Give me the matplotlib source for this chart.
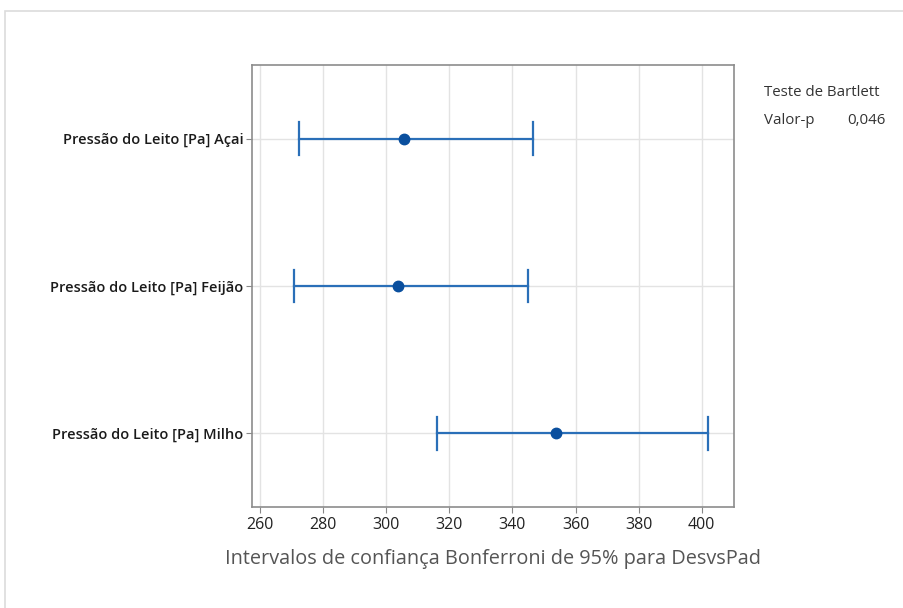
import matplotlib
matplotlib.use("Agg")
import matplotlib.pyplot as plt
from matplotlib.patches import Rectangle

plt.rcParams['font.family'] = ['Open Sans', 'DejaVu Sans']

categories = ["Pressão do Leito [Pa] Açai",
              "Pressão do Leito [Pa] Feijão",
              "Pressão do Leito [Pa] Milho"]
stdev = [305.5, 303.9, 353.8]
lower = [272.5, 270.9, 316.1]
upper = [346.5, 344.9, 402.0]
xticks = [260, 280, 300, 320, 340, 360, 380, 400]
p_value = "0,046"

fig = plt.figure(figsize=(9.04, 6.08), dpi=100)
W, H = 904, 608

# light outer frame
fig.patches.append(Rectangle((5 / W, -0.1), 1.2, (H - 11) / H + 0.1,
                             transform=fig.transFigure, fill=False,
                             edgecolor="#dcdcdc", linewidth=1.2))

ax = fig.add_axes([252 / W, 1 - 507 / H, (734 - 252) / W, (507 - 65) / H])
ypos = list(range(1, len(categories) + 1))

line_c = "#2a6fb8"
dot_c = "#0a4f9e"
for y, c, lo, hi in zip(ypos, stdev, lower, upper):
    ax.plot([lo, hi], [y, y], color=line_c, lw=1.6, zorder=3)
    ax.plot([lo, lo], [y - 0.11, y + 0.11], color=line_c, lw=1.6, zorder=3)
    ax.plot([hi, hi], [y - 0.11, y + 0.11], color=line_c, lw=1.6, zorder=3)
    ax.plot([c], [y], 'o', color=dot_c, markersize=7.5, zorder=4)

ax.set_xlim(257.5, 410.2)
ax.set_ylim(3.5, 0.5)
ax.set_xticks(xticks)
ax.set_yticks(ypos)
ax.set_yticklabels(categories, fontsize=10.5, color="#1a1a1a",
                   fontweight="semibold")
ax.tick_params(axis='x', labelsize=11.5, length=4, color="#888888")
ax.tick_params(axis='y', length=4, color="#888888", pad=2)
for lab in ax.get_xticklabels():
    lab.set_color("#222222")

ax.grid(True, color="#e3e3e3", lw=1.0, zorder=0)
ax.set_axisbelow(True)
for s in ax.spines.values():
    s.set_color("#8c8c8c")
    s.set_linewidth(1.2)

ax.set_xlabel("Intervalos de confiança Bonferroni de 95% para DesvsPad",
              fontsize=14.3, color="#555555", labelpad=11)

fig.text(764 / W, 1 - 93 / H, "Teste de Bartlett", fontsize=10.8,
         color="#333333", va="center", ha="left")
fig.text(764 / W, 1 - 121 / H, "Valor-p", fontsize=10.8,
         color="#333333", va="center", ha="left")
fig.text(886 / W, 1 - 121 / H, p_value, fontsize=10.8,
         color="#333333", va="center", ha="right")

fig.savefig("out.png", dpi=100)
